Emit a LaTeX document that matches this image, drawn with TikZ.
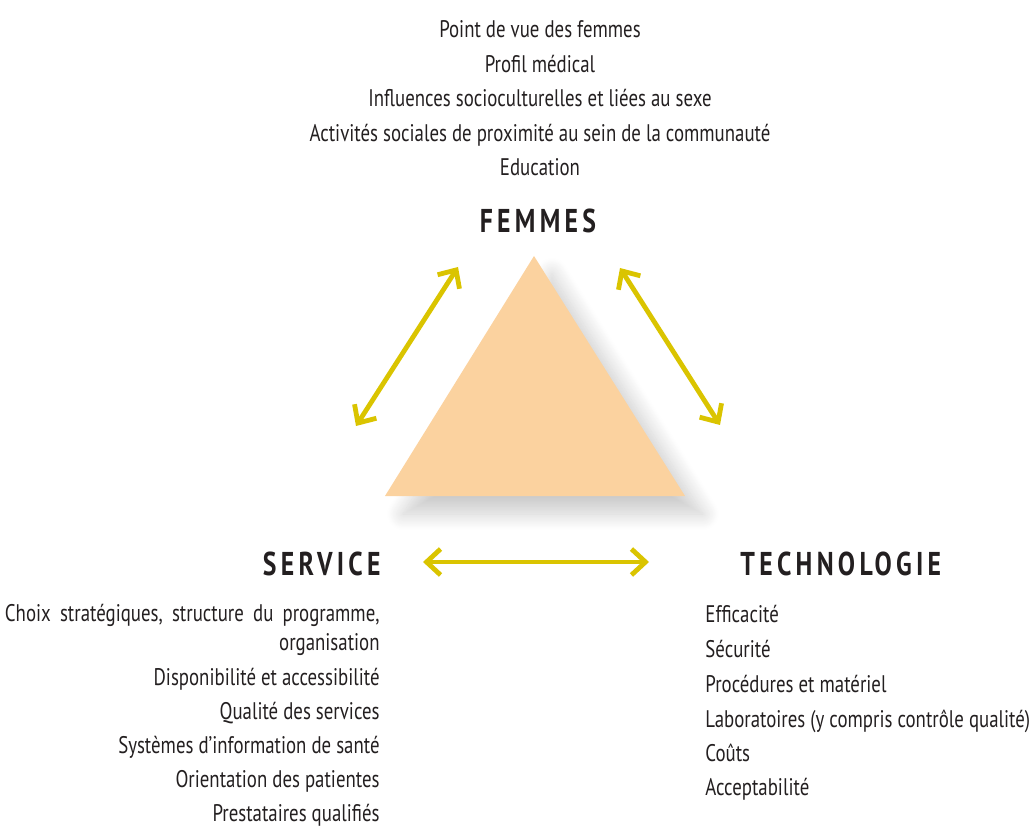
\documentclass[tikz,border=0pt]{standalone}
\usepackage{fontspec}
\setmainfont[FakeStretch=0.785]{PT Sans}
\newfontfamily\headfont[FakeStretch=0.78,LetterSpace=13]{PT Sans}
\usetikzlibrary{arrows.meta,positioning,shadows.blur}

\definecolor{trifill}{HTML}{FBD29F}
\definecolor{linkcol}{HTML}{DAC400}
\definecolor{ink}{HTML}{231F20}

\begin{document}
\begin{tikzpicture}[x=0.5pt,y=-0.5pt,>={Straight Barb[length=7pt,width=13pt]},
  every node/.style={text=ink,inner sep=0pt,anchor=base,font=\fontsize{12}{14}\selectfont},
  head/.style={font=\headfont\bfseries\fontsize{16.5}{20}\selectfont},
  link/.style={draw=linkcol,line width=2.4pt,<->}]
\useasboundingbox (0,0) rectangle (1033,828);

% triangle with its soft shadow
\fill[trifill,blur shadow={shadow xshift=9pt,shadow yshift=-9pt,shadow blur radius=8pt,
    shadow blur steps=20,shadow opacity=20}]
  (534,256) -- (685,496) -- (385,496) -- cycle;

% headings
\node[head] (femmes) at (538,233) {FEMMES};
\node[head,anchor=base east] (service) at (381,575) {SERVICE};
\node[head,anchor=base west] (techno) at (740,575) {TECHNOLOGIE};

% women
\node (w1) at (540,38) {Point de vue des femmes};
\node (w2) at (540,72.5) {Profil médical};
\node (w3) at (540,107) {Influences socioculturelles et liées au sexe};
\node (w4) at (540,141.5) {Activités sociales de proximité au sein de la communauté};
\node (w5) at (540,176) {Education};

% service (first line set justified, with wider spaces)
\node[anchor=base east] (s1) at (380,621) {\spaceskip=4.6pt Choix stratégiques, structure du programme,};
\node[anchor=base east] (s2) at (380,650) {organisation};
\node[anchor=base east] (s3) at (380,685) {Disponibilité et accessibilité};
\node[anchor=base east] (s4) at (380,719) {Qualité des services};
\node[anchor=base east] (s5) at (380,753) {Systèmes d’information de santé};
\node[anchor=base east] (s6) at (380,787) {Orientation des patientes};
\node[anchor=base east] (s7) at (380,821) {Prestataires qualifiés};

% technology
\node[anchor=base west] (t1) at (705,622) {Efficacité};
\node[anchor=base west] (t2) at (705,657) {Sécurité};
\node[anchor=base west] (t3) at (705,692) {Procédures et matériel};
\node[anchor=base west] (t4) at (705,727) {Laboratoires (y compris contrôle qualité)};
\node[anchor=base west] (t5) at (705,761) {Coûts};
\node[anchor=base west] (t6) at (705,795) {Acceptabilité};

% arrow ends
\coordinate (lsw) at (356,426);
\coordinate (lne) at (458,267);
\coordinate (rnw) at (620,268);
\coordinate (rse) at (720,425);
\coordinate (bw) at (423,562);
\coordinate (be) at (649,562);

\draw[link] (lsw) -- (lne);
\draw[link] (rnw) -- (rse);
\draw[link] (bw) -- (be);
\end{tikzpicture}
\end{document}
